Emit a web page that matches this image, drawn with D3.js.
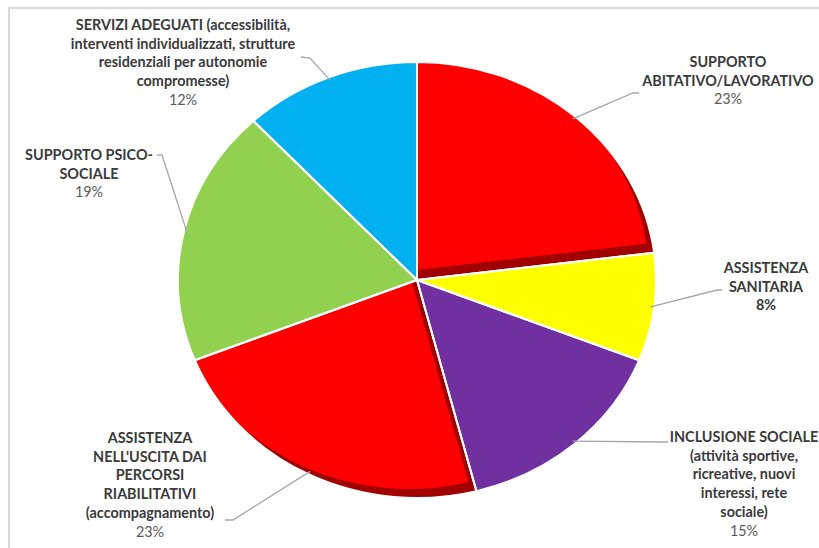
<!DOCTYPE html>
<html>
<head>
<meta charset="utf-8">
<script src="https://cdn.jsdelivr.net/npm/d3@7"></script>
<style>
  html, body { margin: 0; padding: 0; background: #ffffff; }
  svg { display: block; }
</style>
</head>
<body>
<svg id="chart" width="819" height="548"></svg>
<script>
// ---- data ----
const categories = [
  "SUPPORTO ABITATIVO/LAVORATIVO",
  "ASSISTENZA SANITARIA",
  "INCLUSIONE SOCIALE (attività sportive, ricreative, nuovi interessi, rete sociale)",
  "ASSISTENZA NELL'USCITA DAI PERCORSI RIABILITATIVI (accompagnamento)",
  "SUPPORTO PSICO-SOCIALE",
  "SERVIZI ADEGUATI (accessibilità, interventi individualizzati, strutture residenziali per autonomie compromesse)"
];
const values = [23, 8, 15, 23, 19, 12];
const labelLines = [
  ["SUPPORTO", "ABITATIVO/LAVORATIVO"],
  ["ASSISTENZA", "SANITARIA"],
  ["INCLUSIONE SOCIALE", "(attività sportive,", "ricreative, nuovi", "interessi, rete", "sociale)"],
  ["ASSISTENZA", "NELL'USCITA DAI", "PERCORSI", "RIABILITATIVI", "(accompagnamento)"],
  ["SUPPORTO PSICO-", "SOCIALE"],
  ["SERVIZI ADEGUATI (accessibilità,", "interventi individualizzati, strutture", "residenziali per autonomie", "compromesse)"]
];
const percentLabels = ["23%", "8%", "15%", "23%", "19%", "12%"];

// ---- styles / layout ----
const colors = ["#FF0000", "#FFFF00", "#7030A0", "#FF0000", "#92D050", "#00B0F0"];
const bevel = [true, false, false, true, false, false];
const boldPct = [false, true, false, false, false, false];
// label block: centre x, first baseline y, elbow point, end of stub
const labelLayout = [
  { x: 728, y: 67,  elbow: [633, 93],  stub: [639, 93] },
  { x: 766, y: 273, elbow: [717, 290], stub: [722, 290] },
  { x: 744, y: 442, elbow: [663, 442], stub: [668, 442] },
  { x: 150, y: 443, elbow: [233, 520], stub: [225, 520] },
  { x: 89,  y: 160, elbow: [162, 155], stub: [157, 155] },
  { x: 183, y: 30,  elbow: [310, 58],  stub: [301, 57] }
];

const W = 819, H = 548;
const cx = 417, cy = 280, r = 218, sx = 239 / 218;
const lineH = 18.7;

const svg = d3.select("#chart");

// frame
svg.append("rect").attr("x", 9).attr("y", 8).attr("width", 840).attr("height", 580)
  .attr("fill", "none").attr("stroke", "#d9d9d9").attr("stroke-width", 2);

const pie = d3.pie().sort(null).value(d => d)(values);
const arc = d3.arc().innerRadius(0).outerRadius(r);

const defs = svg.append("defs");
const g = svg.append("g").attr("transform", `translate(${cx},${cy}) scale(${sx},1)`);

pie.forEach((p, i) => {
  if (bevel[i]) {
    const id = "clip" + i;
    defs.append("clipPath").attr("id", id)
      .attr("clipPathUnits", "userSpaceOnUse")
      .append("path").attr("d", arc(p))
      .attr("transform", `translate(${cx},${cy}) scale(${sx},1)`);
    const gg = svg.append("g").attr("clip-path", `url(#${id})`);
    const inner = gg.append("g").attr("transform", `translate(${cx},${cy}) scale(${sx},1)`);
    inner.append("path").attr("d", arc(p)).attr("fill", "#A00000");
    inner.append("path").attr("d", arc(p)).attr("fill", colors[i])
      .attr("transform", `translate(${-8 / sx},-9)`);
  } else {
    g.append("path").attr("d", arc(p)).attr("fill", colors[i]);
  }
});
// white separators / outline
const gOut = svg.append("g").attr("transform", `translate(${cx},${cy}) scale(${sx},1)`);
pie.forEach((p, i) => {
  gOut.append("path").attr("d", arc(p)).attr("fill", "none")
    .attr("stroke", "#ffffff").attr("stroke-width", 2)
    .attr("stroke-linejoin", "round")
    .attr("vector-effect", "non-scaling-stroke");
});

// leader lines
pie.forEach((p, i) => {
  const a = (p.startAngle + p.endAngle) / 2;
  const px = cx + Math.sin(a) * r * 0.985 * sx;
  const py = cy - Math.cos(a) * r * 0.985;
  const L = labelLayout[i];
  svg.append("polyline")
    .attr("points", [[px, py], L.elbow, L.stub].map(d => d.join(",")).join(" "))
    .attr("fill", "none").attr("stroke", "#a6a6a6").attr("stroke-width", 1.3);
});

// labels
pie.forEach((p, i) => {
  const L = labelLayout[i];
  const t = svg.append("text").attr("text-anchor", "middle")
    .attr("font-family", "Lato, 'Open Sans', sans-serif").attr("font-size", 14.4);
  labelLines[i].forEach((ln, k) => {
    t.append("tspan").attr("x", L.x).attr("y", L.y + k * lineH)
      .attr("font-weight", "bold").attr("fill", "#3a3a3a").text(ln);
  });
  t.append("tspan").attr("x", L.x).attr("y", L.y + labelLines[i].length * lineH)
    .attr("font-weight", boldPct[i] ? "bold" : "normal")
    .attr("fill", boldPct[i] ? "#3a3a3a" : "#595959").text(percentLabels[i]);
});
</script>
</body>
</html>
